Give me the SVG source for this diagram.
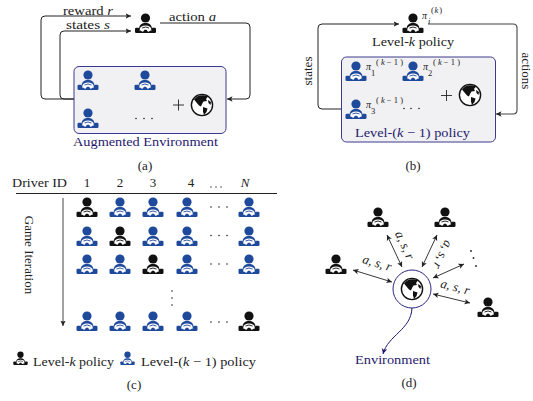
<svg xmlns="http://www.w3.org/2000/svg" width="533" height="401" viewBox="0 0 533 401">
<style>
text{font-family:"Liberation Serif","DejaVu Serif",serif;font-size:13px;fill:#222}
.i{font-style:italic}
.n{fill:#1f1a6e}
.m{text-anchor:middle}
.sm{font-size:8.5px}
.xs{font-size:10px}
.box{fill:#f1f1f3;stroke:#3c3a8c;stroke-width:1}
.ln{fill:none;stroke:#222;stroke-width:1}
.dbl{fill:none;stroke:#222;stroke-width:.9;marker-start:url(#as);marker-end:url(#a)}
.arr{marker-end:url(#a)}
.k{color:#111}
.b{color:#1f4a9c}
.dot{fill:#222}
</style>
<defs>
<marker id="a" markerWidth="7" markerHeight="7" refX="5.5" refY="3" orient="auto" markerUnits="userSpaceOnUse"><path d="M0,0.3 L5.5,3 L0,5.700 L1.3,3z" fill="#222"/></marker>
<marker id="as" markerWidth="7" markerHeight="7" refX="0.5" refY="3" orient="auto" markerUnits="userSpaceOnUse"><path d="M6,0.3 L0.5,3 L6,5.700 L4.700,3z" fill="#222"/></marker>
<marker id="an" markerWidth="7" markerHeight="7" refX="5.5" refY="3" orient="auto" markerUnits="userSpaceOnUse"><path d="M0,0.3 L5.5,3 L0,5.700 L1.3,3z" fill="#1f1a6e"/></marker>
<symbol id="d" overflow="visible" viewBox="-11 -12 22 21" width="22" height="21">
<circle cx="0" cy="-7" r="4.600" fill="currentColor"/>
<path d="M-6.500,4.500 C-6.500,-0.500 -3.500,-2 0,-2 C3.500,-2 6.500,-0.500 6.500,4.500 Z" fill="currentColor"/>
<rect x="-10.500" y="2.800" width="4.500" height="5.200" rx="1.300" fill="currentColor"/>
<rect x="6" y="2.800" width="4.500" height="5.200" rx="1.300" fill="currentColor"/>
<path d="M-8,8 V5.500 L8,5.500 V8 Z" fill="currentColor"/>
<ellipse cx="0" cy="3.800" rx="5.600" ry="3.300" fill="#fff"/>
<path d="M-3.400,8 L-1,4.800 H1 L3.400,8 Z" fill="currentColor"/>
<path d="M-3.500,3 Q0,1 3.500,3" fill="none" stroke="currentColor" stroke-width=".9"/>
</symbol>
<symbol id="g" overflow="visible" viewBox="-12 -12 24 24" width="24" height="24">
<circle r="10.600" fill="#fff" stroke="#111" stroke-width="1.400"/>
<path d="M-8,-5.500 C-5,-10 1,-11 6,-8.500 L4,-6 L5,-4 L1.500,-3.500 L0,-1 L-1,1.500 L-3,0.500 L-5.500,-2.500 Z" fill="#111"/>
<path d="M1,2 L5.500,3.500 L4.500,7 L2,10 L1,6.500 Z" fill="#111"/>
<path d="M6,-5 L9,-3 L8.500,0 L6.500,-2 Z" fill="#111"/>
</symbol>
</defs>

<g id="connectors">
<path class="ln arr" d="M74,99 H45 Q41,99 41,95 V20 Q41,16 45,16 H131"/>
<path class="ln arr" d="M74,99 H64 Q60,99 60,95 V35 Q60,31 64,31 H131"/>
<path class="ln arr" d="M160,23 H246 Q250,23 250,27 V95 Q250,99 246,99 H227"/>
<path class="ln arr" d="M341,109 H322 Q318,109 318,105 V28 Q318,24 322,24 H399"/>
<path class="ln arr" d="M428,24 H513 Q517,24 517,28 V110 Q517,114 513,114 H496" style="stroke:#444;stroke-width:1.100"/>
<path class="ln arr" d="M63,198 V326" style="stroke:#444"/>
<path class="ln" d="M16,193.500 H277"/>
<path class="dbl" d="M387,235 L402,267"/>
<path class="dbl" d="M437,235 L422,267"/>
<path class="dbl" d="M353,270 L392,282"/>
<path class="dbl" d="M433,278 L464,264"/>
<path class="dbl" d="M433,294 L470,303"/>
<path d="M412,308 C411,330 388,335 383,354" fill="none" stroke="#1f1a6e" stroke-width="1" marker-end="url(#an)"/>
</g>

<g id="panel-a">
<rect class="box" x="74" y="66.500" width="152" height="67" rx="5"/>
<use id="a-agent" href="#d" class="k" x="134.500" y="13"/>
<use href="#d" class="b" x="77" y="70"/>
<use href="#d" class="b" x="134" y="70"/>
<use href="#d" class="b" x="77" y="108"/>
<use href="#g" x="190" y="93"/>
<path d="M173,105 H184 M178.500,99.500 V110.500" stroke="#222" stroke-width=".9"/>
<circle class="dot" cx="136" cy="118.500" r=".8"/><circle class="dot" cx="144" cy="118.500" r=".8"/><circle class="dot" cx="152" cy="118.500" r=".8"/>
<text x="63" y="15" textLength="50" lengthAdjust="spacingAndGlyphs">reward <tspan class="i">r</tspan></text>
<text x="66" y="29" textLength="44" lengthAdjust="spacingAndGlyphs">states <tspan class="i">s</tspan></text>
<text x="169" y="21" textLength="47" lengthAdjust="spacingAndGlyphs">action <tspan class="i">a</tspan></text>
<text class="n" x="73" y="146" textLength="145" lengthAdjust="spacingAndGlyphs">Augmented Environment</text>
<text class="m" x="145" y="170">(a)</text>
</g>

<g id="panel-b">
<rect class="box" x="341.500" y="57" width="154" height="85" rx="5"/>
<use href="#d" class="k" x="402" y="13"/>
<use href="#d" class="b" x="345" y="61"/>
<use href="#d" class="b" x="402" y="61"/>
<use href="#d" class="b" x="345" y="99"/>
<use href="#g" x="458" y="83"/>
<path d="M441,95.500 H452 M446.500,90 V101" stroke="#222" stroke-width=".9"/>
<circle class="dot" cx="404" cy="108.500" r=".8"/><circle class="dot" cx="411" cy="108.500" r=".8"/><circle class="dot" cx="419" cy="108.500" r=".8"/>
<text class="i xs" x="422" y="19">π</text><text class="i sm" x="428" y="24">i</text><text class="sm" x="431" y="13" textLength="11">(<tspan class="i">k</tspan>)</text>
<text class="xs i" x="366" y="70">π</text><text class="sm" x="371" y="76">1</text><text class="sm" x="376" y="65" textLength="27">(<tspan class="i">k</tspan>−1)</text>
<text class="xs i" x="423" y="70">π</text><text class="sm" x="428" y="76">2</text><text class="sm" x="433" y="65" textLength="27">(<tspan class="i">k</tspan>−1)</text>
<text class="xs i" x="366" y="108">π</text><text class="sm" x="371" y="114">3</text><text class="sm" x="376" y="103" textLength="27">(<tspan class="i">k</tspan>−1)</text>
<text x="372" y="46" textLength="82" lengthAdjust="spacingAndGlyphs">Level-<tspan class="i">k</tspan> policy</text>
<text class="n" x="355" y="137" textLength="115" lengthAdjust="spacingAndGlyphs">Level-(<tspan class="i">k</tspan> − 1) policy</text>
<text class="m" transform="translate(312,71) rotate(-90)">states</text>
<text class="m" transform="translate(522,71) rotate(90)">actions</text>
<text class="m" x="413" y="170">(b)</text>
</g>

<g id="panel-c">
<text x="12" y="187" textLength="55" lengthAdjust="spacingAndGlyphs">Driver ID</text>
<text class="m" x="87" y="187">1</text><text class="m" x="120" y="187">2</text><text class="m" x="153" y="187">3</text><text class="m" x="191" y="187">4</text>
<text class="m i" x="245" y="187">N</text>
<circle class="dot" cx="211" cy="187" r=".7"/><circle class="dot" cx="216" cy="187" r=".7"/><circle class="dot" cx="221" cy="187" r=".7"/>
<text class="m" transform="translate(25,255) rotate(90)">Game Iteration</text>
<use href="#d" class="k" x="76" y="197"/><use href="#d" class="b" x="109" y="197"/><use href="#d" class="b" x="142" y="197"/><use href="#d" class="b" x="176" y="197"/><use href="#d" class="b" x="238" y="197"/>
<use href="#d" class="b" x="76" y="226"/><use href="#d" class="k" x="109" y="226"/><use href="#d" class="b" x="142" y="226"/><use href="#d" class="b" x="176" y="226"/><use href="#d" class="b" x="238" y="226"/>
<use href="#d" class="b" x="76" y="254"/><use href="#d" class="b" x="109" y="254"/><use href="#d" class="k" x="142" y="254"/><use href="#d" class="b" x="176" y="254"/><use href="#d" class="b" x="238" y="254"/>
<use href="#d" class="b" x="76" y="311"/><use href="#d" class="b" x="109" y="311"/><use href="#d" class="b" x="142" y="311"/><use href="#d" class="b" x="176" y="311"/><use href="#d" class="k" x="238" y="311"/>
<g class="dot">
<circle cx="211" cy="207" r=".8"/><circle cx="219" cy="207" r=".8"/><circle cx="227" cy="207" r=".8"/>
<circle cx="211" cy="235.500" r=".8"/><circle cx="219" cy="235.500" r=".8"/><circle cx="227" cy="235.500" r=".8"/>
<circle cx="211" cy="264" r=".8"/><circle cx="219" cy="264" r=".8"/><circle cx="227" cy="264" r=".8"/>
<circle cx="211" cy="322" r=".8"/><circle cx="219" cy="322" r=".8"/><circle cx="227" cy="322" r=".8"/>
<circle cx="172" cy="291" r=".8"/><circle cx="172" cy="298" r=".8"/><circle cx="172" cy="305" r=".8"/>
</g>
<use href="#d" class="k" x="13" y="351" width="15" height="15"/>
<use href="#d" class="b" x="120" y="351" width="15" height="15"/>
<text x="33" y="366" textLength="81" lengthAdjust="spacingAndGlyphs">Level-<tspan class="i">k</tspan> policy</text>
<text x="141" y="366" textLength="115" lengthAdjust="spacingAndGlyphs">Level-(<tspan class="i">k</tspan> − 1) policy</text>
<text class="m" x="134" y="389">(c)</text>
</g>

<g id="panel-d">
<circle cx="412" cy="289" r="19" fill="#fff" stroke="#2a2780" stroke-width="1"/>
<use href="#g" x="400" y="277"/>
<use href="#d" class="k" x="367" y="207"/>
<use href="#d" class="k" x="434" y="207"/>
<use href="#d" class="k" x="325" y="254"/>
<use href="#d" class="k" x="477" y="297"/>
<g class="dot"><circle cx="471" cy="251" r=".9"/><circle cx="473.500" cy="258" r=".9"/><circle cx="476" cy="266" r=".9"/></g>
<text class="m i" transform="translate(376,267) rotate(17)">a, s, r</text>
<text class="m i" transform="translate(401,247) rotate(65)">a, s, r</text>
<text class="m i" transform="translate(439,253) rotate(115)">a, s, r</text>
<text class="m i" transform="translate(454,291) rotate(15)">a, s, r</text>
<text class="n" x="355" y="364" textLength="75" lengthAdjust="spacingAndGlyphs">Environment</text>
<text class="m" x="409" y="387">(d)</text>
</g>
</svg>
